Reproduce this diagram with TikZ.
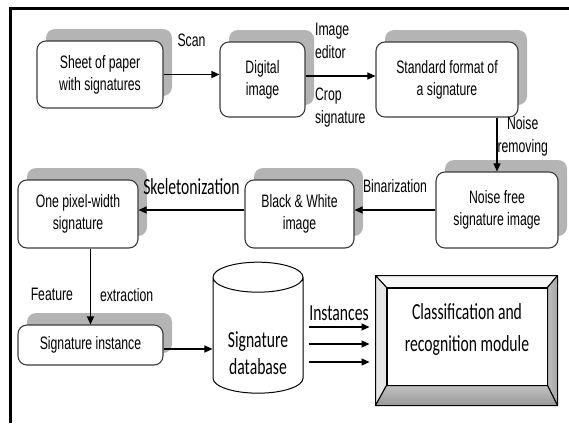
\documentclass[tikz,border=0pt]{standalone}
\usepackage{fontspec}
\newfontfamily\tahfont[FakeStretch=0.68]{Liberation Sans}
\newfontfamily\calfont[FakeStretch=0.68]{Carlito}
\usepackage{tikz}
\usetikzlibrary{arrows.meta, positioning, shapes.geometric, shadows, calc}
\definecolor{sigFrame}{HTML}{000000}
\definecolor{sigBorder}{HTML}{3C3C3C}
\definecolor{sigShadow}{HTML}{B4B4B4}
\definecolor{sigBevelTop}{HTML}{F6F6F6}
\definecolor{sigBevelLeft}{HTML}{E6E6E6}
\definecolor{sigBevelRight}{HTML}{A4A4A4}
\definecolor{sigBevelBottom}{HTML}{989898}
\tikzset{
  sig/box/.style     = {rectangle, rounded corners=9pt, draw=sigBorder, fill=white,
                        line width=1.1pt, align=center, inner sep=2pt,
                        font=\tahfont\fontsize{18}{22}\selectfont,
                        drop shadow={shadow xshift=9pt, shadow yshift=12pt,
                                     fill=sigShadow, opacity=1}},
  sig/db/.style      = {cylinder, shape border rotate=90, aspect=0.5, draw=black,
                        fill=white, line width=1pt, inner sep=30pt,
                        minimum width=90pt, minimum height=131pt},
  sig/module/.style  = {rectangle, draw=black, fill=white, line width=1pt},
  sig/inside/.style  = {font=\calfont\fontsize{23}{27}\selectfont, align=center, inner sep=0pt},
  sig/arrow/.style   = {-{Triangle[length=8pt, width=7pt]}, line width=1.1pt, draw=black},
  sig/label/.style   = {font=\tahfont\fontsize{18}{23}\selectfont, align=left, inner sep=0pt},
  sig/clabel/.style  = {font=\calfont\fontsize{23}{27}\selectfont, inner sep=0pt},
  sig/bevel/.style   = {draw=black, line width=1pt, line join=round},
}

\begin{document}
\begin{tikzpicture}[x=1pt, y=-1pt]
  \useasboundingbox (0,0) rectangle (569,423);
  % frame
  \draw[line width=3pt, sigFrame] (10,423) -- (10,8.5) -- (569,8.5);
  % first row
  \node[sig/box, minimum width=126pt, minimum height=67pt] (sheet) at (100,74.5)
        {Sheet of paper\\with signatures};
  \node[sig/box, minimum width=85pt, minimum height=75pt] (digital) at (262.5,79.5)
        {Digital\\image};
  \node[sig/box, minimum width=142pt, minimum height=75pt] (standard) at (447,79.5)
        {Standard format of\\a signature};
  % second row
  \node[sig/box, minimum width=122pt, minimum height=76pt] (noisefree) at (497,210)
        {Noise free\\signature image};
  \node[sig/box, minimum width=109pt, minimum height=68pt] (bw) at (299.5,214)
        {Black \& White\\image};
  \node[sig/box, minimum width=120pt, minimum height=68pt] (onepixel) at (78,214)
        {One pixel-width\\signature};
  % third row
  \node[sig/box, minimum width=145pt, minimum height=40pt] (instance) at (90.5,345)
        {Signature instance};
  \node[sig/db, label={[sig/inside, yshift=-11pt]center:Signature\\database}] (db)
        at (258,342.5) {};
  \node[sig/module, minimum width=160pt, minimum height=97pt,
        label={[sig/inside, yshift=7pt, font=\calfont\fontsize{23}{32}\selectfont]center:Classification and\\recognition module}]
        (cls) at (467,336.5) {};
  % bevelled frame of the module
  \coordinate (onw) at ($(cls.north west)+(-11,-12)$);
  \coordinate (one) at ($(cls.north east)+(10,-12)$);
  \coordinate (ose) at ($(cls.south east)+(10,20)$);
  \coordinate (osw) at ($(cls.south west)+(-11,20)$);
  \filldraw[sig/bevel, fill=sigBevelTop] (onw) -- (one) -- (cls.north east) -- (cls.north west) -- cycle;
  \filldraw[sig/bevel, fill=sigBevelLeft] (onw) -- (cls.north west) -- (cls.south west) -- (osw) -- cycle;
  \filldraw[sig/bevel, left color=sigBevelRight!70, right color=sigBevelRight]
        (one) -- (ose) -- (cls.south east) -- (cls.north east) -- cycle;
  \filldraw[sig/bevel, top color=sigBevelBottom!60, bottom color=sigBevelBottom]
        (osw) -- (cls.south west) -- (cls.south east) -- (ose) -- cycle;
  % arrows
  \draw[sig/arrow] (sheet.east) -- node[sig/label, above=27pt] {Scan} (sheet.east -| digital.west);
  \draw[sig/arrow] ([yshift=3.5pt]digital.east) --
        node[pos=0, sig/label, anchor=south west, xshift=9pt, yshift=17pt] {Image\\editor}
        node[pos=0, sig/label, anchor=north west, xshift=9pt, yshift=-11pt] {Crop\\signature}
        ([yshift=3.5pt]standard.west);
  \draw[sig/arrow] (noisefree.north |- standard.south) --
        node[pos=0.35, sig/label, anchor=west, align=center, xshift=0pt] {Noise\\removing}
        (noisefree.north);
  \draw[sig/arrow] (noisefree.west) -- node[sig/label, above=17pt] {Binarization}
        (noisefree.west -| bw.east);
  \draw[sig/arrow] (bw.west |- noisefree.west) -- node[sig/clabel, above=15pt] {Skeletonization}
        (noisefree.west -| onepixel.east);
  \draw[sig/arrow] (instance.north |- onepixel.south) --
        node[pos=0.61, sig/label, left=17pt] {Feature}
        node[pos=0.61, sig/label, right=9pt] {extraction}
        (instance.north);
  \draw[sig/arrow] ([yshift=-4pt]instance.east) -- ([yshift=-4pt]instance.east -| db.west);
  \draw[sig/arrow] ($(db.east)+(5,-15.5)$) -- node[sig/clabel, above=6pt] {Instances}
        ($(db.east -| onw)+(-6,-15.5)$);
  \draw[sig/arrow] ($(db.east)+(5,1.5)$) -- ($(db.east -| onw)+(-6,1.5)$);
  \draw[sig/arrow] ($(db.east)+(5,19.5)$) -- ($(db.east -| onw)+(-6,19.5)$);
\end{tikzpicture}
\end{document}
